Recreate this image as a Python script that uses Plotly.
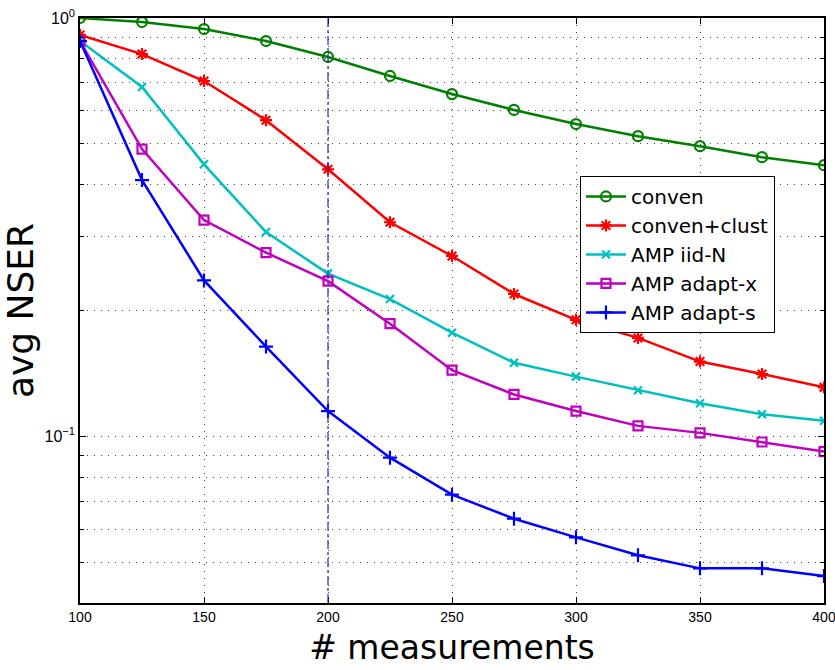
import plotly.graph_objects as go

measurements = [100, 125, 150, 175, 200, 225, 250, 275, 300, 325, 350, 375, 400]

conven = [1.0, 0.978, 0.941, 0.881, 0.807, 0.727, 0.658, 0.603, 0.558, 0.522, 0.494, 0.465, 0.445]
conven_clust = [0.911, 0.820, 0.707, 0.570, 0.435, 0.325, 0.270, 0.219, 0.190, 0.172, 0.151, 0.141, 0.131]
amp_iid = [0.881, 0.684, 0.447, 0.308, 0.245, 0.213, 0.177, 0.150, 0.139, 0.129, 0.120, 0.113, 0.109]
amp_adapt_x = [0.881, 0.486, 0.329, 0.275, 0.235, 0.186, 0.144, 0.126, 0.115, 0.106, 0.102, 0.097, 0.092]
amp_adapt_s = [0.881, 0.410, 0.236, 0.164, 0.115, 0.089, 0.0726, 0.0636, 0.0574, 0.052, 0.0484, 0.0484, 0.0464]

series = [
    ("conven", conven, "#008000", "circle-open", 10),
    ("conven+clust", conven_clust, "#ff0000", "asterisk-open", 10),
    ("AMP iid-N", amp_iid, "#00bfbf", "x-thin-open", 8),
    ("AMP adapt-x", amp_adapt_x, "#bf00bf", "square-open", 9),
    ("AMP adapt-s", amp_adapt_s, "#0000ff", "cross-thin-open", 10),
]

fig = go.Figure()
for name, vals, color, sym, sz in series:
    fig.add_trace(go.Scatter(
        x=measurements, y=vals, name=name, mode="lines+markers",
        line=dict(color=color, width=2.5),
        marker=dict(symbol=sym, size=sz, color=color, line=dict(color=color, width=2.2)),
    ))

fig.add_shape(type="line", x0=200, x1=200, y0=0, y1=1, xref="x", yref="paper",
              line=dict(color="#2828a8", width=1.2, dash="dashdot"))

minor_vals = [0.05, 0.06, 0.07, 0.08, 0.09, 0.2, 0.3, 0.4, 0.5, 0.6, 0.7, 0.8, 0.9]
grid_dash = "1px,6px"
grid_col = "#444444"

fig.update_layout(
    width=835, height=670,
    margin=dict(l=80, r=11, t=18, b=67),
    plot_bgcolor="white", paper_bgcolor="white",
    font=dict(family="Liberation Sans, Arial", color="black"),
    legend=dict(
        x=0.672, y=0.73, xanchor="left", yanchor="top",
        bgcolor="white", bordercolor="black", borderwidth=1,
        font=dict(family="DejaVu Sans", size=20, color="black"),
        tracegroupgap=0, itemwidth=40,
    ),
    xaxis=dict(
        range=[100, 400], automargin=False, ticklabeloverflow="allow",
        tickvals=[100, 150, 200, 250, 300, 350, 400],
        ticks="inside", ticklen=6, tickcolor="black",
        showline=True, linecolor="black", linewidth=1.5, mirror="ticks",
        showgrid=True, gridcolor=grid_col, griddash=grid_dash, gridwidth=1,
        zeroline=False,
        tickfont=dict(size=14),
        title=dict(text="# measurements", font=dict(family="DejaVu Sans", size=33), standoff=12),
    ),
    yaxis=dict(
        type="log", automargin=False, ticklabeloverflow="allow",
        range=[-1.39794, 0],
        tickvals=[0.1, 1.0],
        ticktext=["10<sup>\u22121</sup>", "10<sup>0</sup>"],
        ticks="inside", ticklen=6, tickcolor="black",
        showline=True, linecolor="black", linewidth=1.5, mirror="ticks",
        showgrid=True, gridcolor=grid_col, griddash=grid_dash, gridwidth=1,
        zeroline=False,
        tickfont=dict(size=16),
        minor=dict(tickvals=minor_vals, ticks="inside", ticklen=4, tickcolor="black",
                   showgrid=True, gridcolor=grid_col, griddash=grid_dash, gridwidth=1),
        title=dict(text="avg NSER", font=dict(family="DejaVu Sans", size=36), standoff=0),
    ),
)

fig.write_html("out.html")
